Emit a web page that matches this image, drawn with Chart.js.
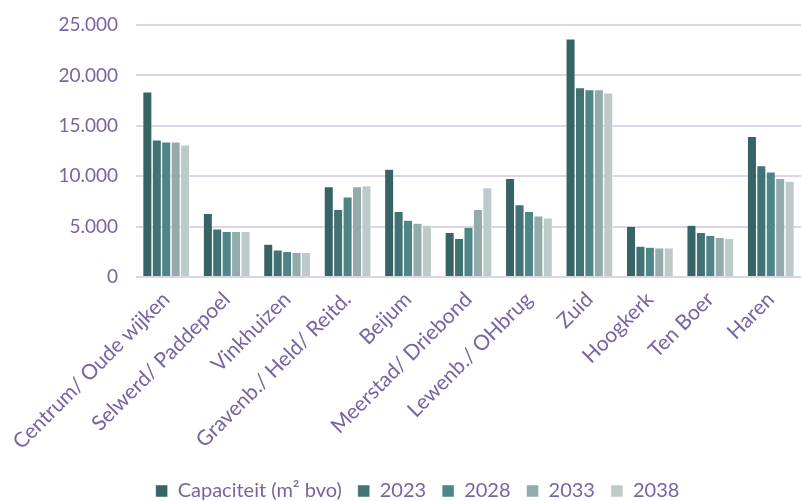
<!DOCTYPE html>
<html>
<head>
<meta charset="utf-8">
<script src="https://cdn.jsdelivr.net/npm/chart.js@4"></script>
<style>
  html, body { margin: 0; padding: 0; background: #fff; }
  #wrap { width: 801px; height: 501px; }
</style>
</head>
<body>
<div id="wrap"><canvas id="chart"></canvas></div>
<script>
const wijken = ['Centrum/ Oude wijken', 'Selwerd/ Paddepoel', 'Vinkhuizen', 'Gravenb./ Held/ Reitd.', 'Beijum',
  'Meerstad/ Driebond', 'Lewenb./ OHbrug', 'Zuid', 'Hoogkerk', 'Ten Boer', 'Haren'];
const capaciteit = [18350, 6300, 3260, 8960, 10700, 4410, 9780, 23600, 5040, 5140, 13930];
const v2023 = [13600, 4750, 2670, 6690, 6490, 3820, 7180, 18770, 3060, 4410, 11040];
const v2028 = [13400, 4520, 2540, 7940, 5630, 4940, 6490, 18580, 2960, 4120, 10410];
const v2033 = [13400, 4520, 2440, 8960, 5340, 6690, 6060, 18580, 2870, 3920, 9780];
const v2038 = [13100, 4520, 2440, 9060, 5140, 8860, 5860, 18250, 2870, 3820, 9490];
const yTicks = [0, 5000, 10000, 15000, 20000, 25000];

const textColor = '#7a63a2';
const gridColor = '#dcd5e6';
const fontName = 'Lato';

function ds(label, data, color) {
  return { label: label, data: data, backgroundColor: color, borderColor: '#ffffff', borderWidth: 0.5 };
}

const ctx = document.getElementById('chart');
new Chart(ctx, {
  type: 'bar',
  data: {
    labels: wijken,
    datasets: [
      ds('Capaciteit (m² bvo)', capaciteit, '#366364'),
      ds('2023', v2023, '#417374'),
      ds('2028', v2028, '#4e8587'),
      ds('2033', v2033, '#93acab'),
      ds('2038', v2038, '#bccbca')
    ]
  },
  options: {
    responsive: true,
    maintainAspectRatio: false,
    animation: false,
    // left padding shifts the legend centre to match; y axis width compensates
    layout: { padding: { top: 0, right: 0, left: 34, bottom: -10 } },
    datasets: { bar: { categoryPercentage: 0.78, barPercentage: 0.96 } },
    plugins: {
      tooltip: { enabled: false },
      legend: {
        position: 'bottom',
        labels: {
          color: textColor,
          font: { family: fontName, size: 20 },
          boxWidth: 12,
          boxHeight: 12,
          padding: 16
        }
      }
    },
    scales: {
      x: {
        grid: { display: false },
        border: { display: false },
        afterFit: (axis) => { axis.height = 188; },
        ticks: {
          color: textColor,
          font: { family: fontName, size: 21 },
          minRotation: 45,
          maxRotation: 45,
          padding: 2
        }
      },
      y: {
        min: 0,
        max: 25000,
        afterBuildTicks: (axis) => { axis.ticks = yTicks.map(v => ({ value: v })); },
        afterFit: (axis) => { axis.width = 102; axis.paddingTop = 25; },
        grid: { color: gridColor, lineWidth: 2, drawTicks: false },
        border: { display: false },
        ticks: {
          color: textColor,
          font: { family: fontName, size: 19 },
          padding: 18,
          callback: (v) => String(v).replace(/\B(?=(\d{3})+(?!\d))/g, '.')
        }
      }
    }
  }
});
</script>
</body>
</html>
